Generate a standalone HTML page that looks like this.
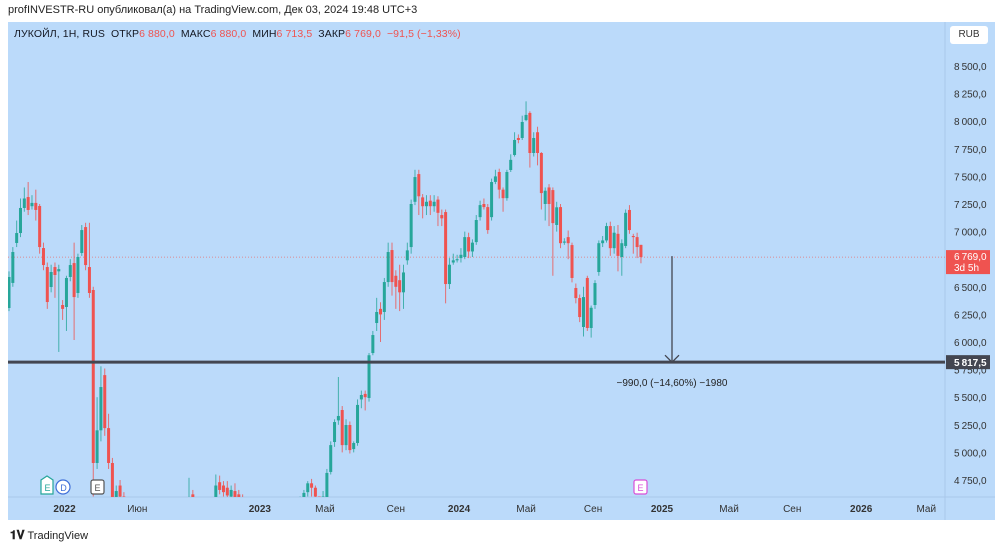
<!DOCTYPE html>
<html><head><meta charset="utf-8">
<style>
body{margin:0;width:1000px;height:548px;background:#fff;font-family:"Liberation Sans","DejaVu Sans",sans-serif;overflow:hidden;position:relative}
.hdr{position:absolute;left:8px;top:4px;font-size:11px;color:#222}
.panel{position:absolute;left:8px;top:22px;width:987px;height:498px;background:#bbdafa}
.legend{position:absolute;left:14px;top:28px;font-size:10.5px;color:#131722;letter-spacing:0.1px}
.legend .v{color:#ef5350}
.rub{position:absolute;left:950px;top:26px;width:38px;height:18px;background:#fff;border-radius:3px;font-size:10px;color:#333;text-align:center;line-height:18px}
.foot{position:absolute;left:10px;top:528px;font-size:11px;color:#222}
</style></head><body>
<div class="hdr">profINVESTR-RU опубликовал(а) на TradingView.com, Дек 03, 2024 19:48 UTC+3</div>
<div class="panel"></div>
<svg id="chart" width="1000" height="548" style="position:absolute;left:0;top:0"></svg>
<div class="legend">ЛУКОЙЛ, 1Н, RUS&nbsp; ОТКР<span class="v">6 880,0</span>&nbsp; МАКС<span class="v">6 880,0</span>&nbsp; МИН<span class="v">6 713,5</span>&nbsp; ЗАКР<span class="v">6 769,0</span>&nbsp; <span class="v">−91,5 (−1,33%)</span></div>
<div class="rub">RUB</div>
<div class="foot"><b style="font-size:12px">𝟏𝐕</b> TradingView</div>
<script>
const opens=[6308,6535,6897,6987,7214,7313,7230,7260,7232,6851,6679,6498,6679,6640,6335,6317,6589,6715,6444,6806,7041,6679,6471,4904,5200,5700,5220,4904,4550,4700,4600,
4400,4300,4350,4250,4300,4200,4250,4300,4350,4300,4250,4300,4350,4400,4350,4300,
4400,4620,4400,4350,4300,4350,4400,
4500,4730,4700,4680,4600,4650,4620,4580,
4500,4450,4400,4350,4300,4350,4400,4450,4400,4350,4400,4450,4500,4480,4520,
4550,4640,4720,4680,4600,4550,4596,4823,5094,5290,5384,5066,5248,5030,5085,5480,5530,5493,5900,6172,6300,6272,6543,6833,6600,6560,6450,6740,6860,7270,7521,7310,7230,7280,7230,7290,7150,7177,6525,6720,6740,6760,6770,6950,6820,6905,7131,7250,7222,7131,7450,7540,7380,7303,7558,7694,7848,7848,8010,8075,7712,7900,7712,7250,7400,7376,7060,7222,6900,6950,6878,6489,6398,6136,6580,6127,6335,6634,6895,6920,7050,6850,6980,6770,6870,7196,6960,6950,6880];
const closes=[6589,6815,6987,7214,7300,7196,7260,7196,6860,6697,6362,6634,6607,6660,6300,6580,6697,6407,6770,7014,6697,6444,4904,5200,5592,5220,4904,4500,4650,4600,4550,
4300,4350,4250,4300,4200,4250,4300,4350,4300,4250,4300,4350,4400,4350,4300,4400,
4450,4590,4350,4300,4350,4400,4450,
4700,4660,4640,4610,4660,4580,4560,4560,
4450,4400,4350,4300,4350,4400,4450,4400,4350,4400,4450,4500,4480,4520,4550,
4633,4720,4680,4600,4550,4600,4814,5066,5275,5330,5066,5248,5021,5085,5430,5520,5500,5880,6063,6272,6250,6543,6815,6543,6500,6450,6630,6830,7250,7494,7320,7230,7270,7230,7270,7170,7120,6525,6700,6740,6750,6790,6950,6820,6900,7105,7240,7222,7014,7449,7500,7380,7303,7540,7650,7830,7830,7993,8057,7712,7848,7712,7349,7370,7250,7077,7220,6895,6910,6895,6580,6398,6226,6407,6127,6310,6534,6895,6920,7050,6850,6990,6780,6895,7170,7014,6950,6860,6769];
const highs=[6640,6860,7100,7300,7400,7449,7330,7380,7250,6900,6720,6700,6720,6700,6380,6600,6750,6900,6800,7060,7080,7080,6500,5500,5780,5760,5350,4950,4700,4750,4640,
4400,4400,4350,4350,4300,4300,4350,4400,4350,4300,4350,4400,4450,4400,4350,4450,
4770,4660,4400,4350,4400,4450,4500,
4800,4790,4740,4740,4700,4720,4660,4620,
4500,4450,4400,4350,4400,4450,4500,4450,4400,4450,4500,4550,4520,4560,4600,
4660,4740,4760,4700,4600,4650,4850,5100,5300,5683,5420,5300,5280,5100,5480,5560,5560,5900,6100,6400,6360,6580,6900,6900,6650,6700,6700,6900,7290,7560,7560,7340,7330,7330,7330,7320,7200,7200,6760,6800,6790,6850,7000,6990,6930,7150,7280,7300,7250,7480,7560,7570,7400,7560,7700,7900,7880,8050,8180,8090,7900,7950,7720,7400,7430,7400,7270,7250,6940,7010,6900,6530,6430,6500,6600,6330,6560,6920,6960,7080,7090,7050,7060,6930,7200,7240,6980,6990,6880];
const lows=[6280,6500,6860,6950,7180,7150,7200,7100,6800,6650,6300,6450,6400,5910,6200,6100,6550,6018,6400,6780,6650,6400,4600,4850,5100,5150,4850,4400,4400,4500,4400,
4250,4250,4200,4200,4150,4200,4250,4300,4250,4200,4250,4300,4350,4300,4250,4350,
4300,4550,4300,4250,4300,4350,4400,
4480,4620,4600,4560,4580,4540,4520,4520,
4400,4350,4300,4250,4300,4350,4400,4350,4300,4350,4400,4450,4430,4470,4500,
4500,4600,4600,4500,4500,4550,4550,4800,5050,5250,5000,5020,4990,5000,5060,5400,5380,5460,5880,6100,6000,6200,6500,6420,6300,6280,6300,6700,6800,7240,7150,7120,7150,7150,7180,7050,7050,6350,6480,6700,6720,6720,6750,6760,6770,6880,7100,7200,6980,7100,7430,7300,7180,7280,7540,7680,7800,7830,8000,7580,7680,7600,7200,7100,7050,6600,7000,6850,6880,6750,6540,6350,6180,6050,6100,6040,6300,6600,6860,6900,6780,6800,6640,6600,6850,6980,6800,6760,6713];
const priceTicks=[8500,8250,8000,7750,7500,7250,7000,6500,6250,6000,5750,5500,5250,5000,4750];
const timeLabels=["2022","Июн","2023","Май","Сен","2024","Май","Сен","2025","Май","Сен","2026","Май"];
const timePos=[14.5,33.5,65.5,82.5,101,117.5,135,152.5,170.5,188,204.5,222.5,239.5]; // in candle-index units
const levelPrice=5817.5, lastPrice=6769;

const NS="http://www.w3.org/2000/svg";
const svg=document.getElementById('chart');
const yOf=p=>66+(8500-p)/250*27.6;
const xOf=i=>9+i*3.83;
function mk(tag,attrs,parent){const e=document.createElementNS(NS,tag);for(const k in attrs)e.setAttribute(k,attrs[k]);(parent||svg).appendChild(e);return e;}
const defs=mk('defs',{});
const cp=mk('clipPath',{id:'plot'},defs);
mk('rect',{x:8,y:22,width:937,height:475},cp);
const sepV=mk('line',{x1:945,y1:22,x2:945,y2:520,stroke:'#a9c8ea','stroke-width':1});


const sepH=mk('line',{x1:8,y1:497,x2:995,y2:497,stroke:'#a9c8ea','stroke-width':1});


priceTicks.forEach(p=>{
  const t=mk('text',{x:954,y:yOf(p)+4,'font-size':10,fill:'#333'});
  
  
  t.textContent=(p/1000|0)+'\u2009'+String(p%1000).padStart(3,'0')+',0';
});
timeLabels.forEach((l,i)=>{
  const bold=/^\d+$/.test(l);
  const t=mk('text',{x:xOf(timePos[i]),y:512,'font-size':10,fill:'#333','text-anchor':'middle','font-weight':bold?'bold':'normal'});
  
  
  t.textContent=l;
});
const g=mk('g',{'clip-path':'url(#plot)'});


const lp=mk('line',{x1:8,x2:945,y1:yOf(lastPrice),y2:yOf(lastPrice),stroke:'#e57373','stroke-width':0.8,'stroke-dasharray':'1 2'},g);


opens.forEach((o,i)=>{
  const c=closes[i],col=c>=o?'#26a69a':'#ef5350',x=xOf(i);
  const w=mk('line',{x1:x,x2:x,y1:yOf(highs[i]),y2:yOf(lows[i]),stroke:col,'stroke-width':1,opacity:0.8},g);
  
  
  const top=yOf(Math.max(o,c)),bot=yOf(Math.min(o,c));
  const r=mk('rect',{x:x-1.5,y:top,width:3,height:Math.max(1,bot-top),fill:col},g);
  
  
});
const hl=mk('line',{x1:8,x2:945,y1:yOf(levelPrice),y2:yOf(levelPrice),stroke:'#434651','stroke-width':3});


const ax=672;
const ar=mk('path',{d:`M${ax},${yOf(lastPrice)-1} L${ax},${yOf(levelPrice)} M${ax-7},${yOf(levelPrice)-7} L${ax},${yOf(levelPrice)} L${ax+7},${yOf(levelPrice)-7}`,stroke:'#434651','stroke-width':1.3,fill:'none'});


const ml=mk('text',{x:ax,y:yOf(levelPrice)+24,'font-size':10,fill:'#222','text-anchor':'middle'});


ml.textContent='−990,0 (−14,60%) −1980';
const bg=mk('rect',{x:946,y:yOf(lastPrice)-7,width:44,height:24,fill:'#ef5350'});


const b1=mk('text',{x:954,y:yOf(lastPrice)+3,'font-size':10,fill:'#fff'});


b1.textContent='6\u2009769,0';
const b2=mk('text',{x:954,y:yOf(lastPrice)+14,'font-size':10,fill:'#fff'});


b2.textContent='3d 5h';
const lb=mk('rect',{x:946,y:yOf(levelPrice)-7,width:44,height:14,fill:'#434651'});


const lt=mk('text',{x:954,y:yOf(levelPrice)+4,'font-size':10,fill:'#fff','font-weight':'bold'});


lt.textContent='5\u2009817,5';
function marker(x,letter,col,shape,name){
  const grp=mk('g',{});
  
  
  if(shape==='house')mk('path',{d:`M${x-6},${480} L${x},${476} L${x+6},${480} L${x+6},${494} L${x-6},${494} Z`,fill:'#fff',stroke:col,'stroke-width':1.2},grp);
  else if(shape==='circle')mk('circle',{cx:x,cy:487,r:7,fill:'#fff',stroke:col,'stroke-width':1.2},grp);
  else mk('rect',{x:x-6,y:480,width:13,height:14,rx:2,fill:'#fff',stroke:col,'stroke-width':1.2},grp);
  const t=mk('text',{x:x+0.5,y:491,'font-size':9,fill:col,'text-anchor':'middle'},grp);
  t.textContent=letter;
}
marker(47,'E','#26a69a','house','earnings-marker');
marker(63,'D','#3f6fd8','circle','dividend-marker');
marker(97,'E','#555','square','earnings-marker-past');
marker(640,'E','#d84fd8','square','earnings-marker-upcoming');
</script>
</body></html>
